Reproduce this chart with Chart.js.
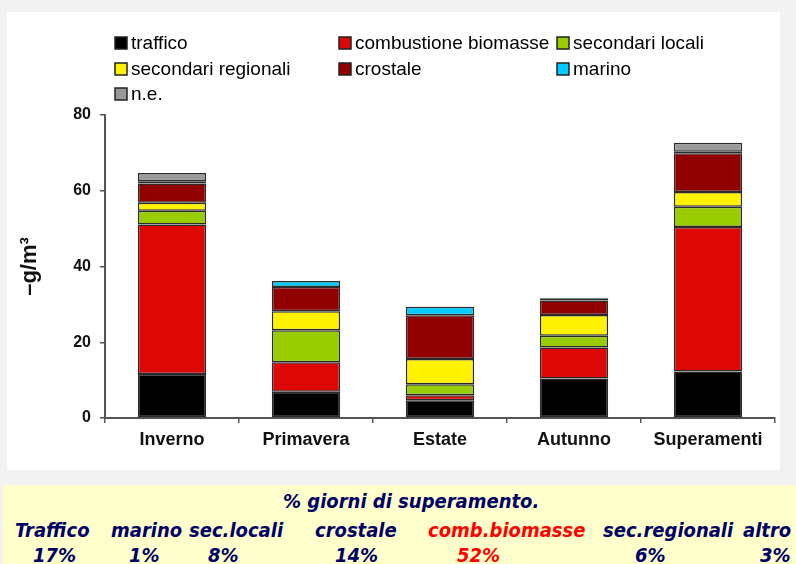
<!DOCTYPE html>
<html>
<head>
<meta charset="utf-8">
<script src="https://cdn.jsdelivr.net/npm/chart.js"></script>
<style>
body{margin:0;background:#f2f2f2;width:796px;height:564px;overflow:hidden;position:relative;font-family:"Liberation Sans",Arial,sans-serif}
#panel{position:absolute;left:7px;top:12px;width:773px;height:458px;background:#fff}
#bottom{position:absolute;left:3px;top:485px;width:793px;height:79px;background:#ffffcc;font-family:"DejaVu Sans Condensed","DejaVu Sans",sans-serif;font-weight:bold;font-style:italic;font-size:20px;color:#000066}
.t{position:absolute;white-space:nowrap;line-height:1}
</style>
</head>
<body>
<div id="panel"><canvas id="chart"></canvas></div>
<div id="bottom"></div>
<script>
const stagioni = ['Inverno', 'Primavera', 'Estate', 'Autunno', 'Superamenti'];
const traffico = [11.6, 6.9, 4.7, 10.4, 12.3];
const combustione = [39.5, 7.8, 1.3, 8.2, 38.1];
const secLocali = [3.6, 8.5, 2.9, 3.1, 5.4];
const secRegionali = [2.1, 5.0, 6.7, 5.5, 3.9];
const crostale = [5.1, 6.4, 11.5, 3.8, 10.2];
const marino = [0.6, 1.6, 2.3, 0.6, 0.4];
const nonDet = [2.2, 0, 0, 0, 2.4];
const yTicks = [0, 20, 40, 60, 80];

const giorniVoci = ['Traffico', 'marino', 'sec.locali', 'crostale', 'comb.biomasse', 'sec.regionali', 'altro'];
const giorniPct = [17, 1, 8, 14, 52, 6, 3];

// posizioni del riquadro giallo (px dal bordo del riquadro)
const voceX = [12, 108, 186, 312, 425, 600, 740];
const pctX = [30, 126, 205, 332, 454, 632, 757];

function mkSet(label, data, color){
    return {label: label, data: data, backgroundColor: color, borderColor: '#2a2a2a',
        borderWidth: 1.5, borderSkipped: false, categoryPercentage: 1, barPercentage: 0.51}
}

const gridLegend = {
    id: 'gridLegend',
    afterDraw(chart){
        const ctx = chart.ctx
        const cols = [108, 332, 550]
        const rows = [31, 57, 82]
        ctx.save()
        chart.data.datasets.forEach((ds, i) => {
            const x = cols[i % 3], y = rows[Math.floor(i / 3)]
            ctx.fillStyle = ds.backgroundColor
            ctx.fillRect(x, y - 6, 12, 12)
            ctx.strokeStyle = '#222'
            ctx.lineWidth = 1.5
            ctx.strokeRect(x, y - 6, 12, 12)
            ctx.fillStyle = '#000'
            ctx.font = '19px "Liberation Sans"'
            ctx.textBaseline = 'middle'
            ctx.fillText(ds.label, x + 16, y + 1)
        })
        ctx.restore()
    }
}

new Chart('chart', {
    type: 'bar',
    data: {
        labels: stagioni,
        datasets: [
            mkSet('traffico', traffico, '#000000'),
            mkSet('combustione biomasse', combustione, '#dd0806'),
            mkSet('secondari locali', secLocali, '#99cc00'),
            mkSet('secondari regionali', secRegionali, '#fff200'),
            mkSet('crostale', crostale, '#900000'),
            mkSet('marino', marino, '#00ccff'),
            mkSet('n.e.', nonDet, '#999999')
        ]
    },
    options: {
        responsive: true,
        maintainAspectRatio: false,
        animation: false,
        layout: {padding: {top: 103, right: 5, bottom: 18, left: 0}},
        plugins: {legend: {display: false}, tooltip: {enabled: false}},
        scales: {
            x: {
                stacked: true,
                afterFit: s => { s.height = 34 },
                grid: {drawOnChartArea: false, tickLength: 5, color: '#555', lineWidth: 1.5},
                border: {color: '#555', width: 2},
                ticks: {color: '#111', padding: 6, font: {family: 'Liberation Sans', size: 18, weight: 'bold'}}
            },
            y: {
                stacked: true,
                min: 0, max: 80,
                afterFit: s => { s.width = 98 },
                afterBuildTicks: s => { s.ticks = yTicks.map(v => ({value: v})) },
                grid: {drawOnChartArea: false, tickLength: 5, color: '#555', lineWidth: 1.5},
                border: {color: '#555', width: 2},
                ticks: {color: '#111', padding: 9, font: {family: 'Liberation Sans', size: 16, weight: 'bold'}},
                title: {display: true, text: '\u2013g/m\u00b3', color: '#111', padding: {top: 10, bottom: 0},
                    font: {family: 'Liberation Sans', size: 22, weight: 'bold'}}
            }
        }
    },
    plugins: [gridLegend]
})

const box = document.getElementById('bottom')
function addText(txt, left, top, color){
    const d = document.createElement('div')
    d.className = 't'
    d.style.left = left + 'px'
    d.style.top = top + 'px'
    if(color) d.style.color = color
    d.innerText = txt
    box.appendChild(d)
}
addText('% giorni di superamento.', 280, 6)
for(let i = 0; i < giorniVoci.length; i++){
    const col = giorniVoci[i] === 'comb.biomasse' ? '#ff0000' : null
    addText(giorniVoci[i], voceX[i], 35, col)
    addText(giorniPct[i] + '%', pctX[i], 60, col)
}
</script>
</body>
</html>
